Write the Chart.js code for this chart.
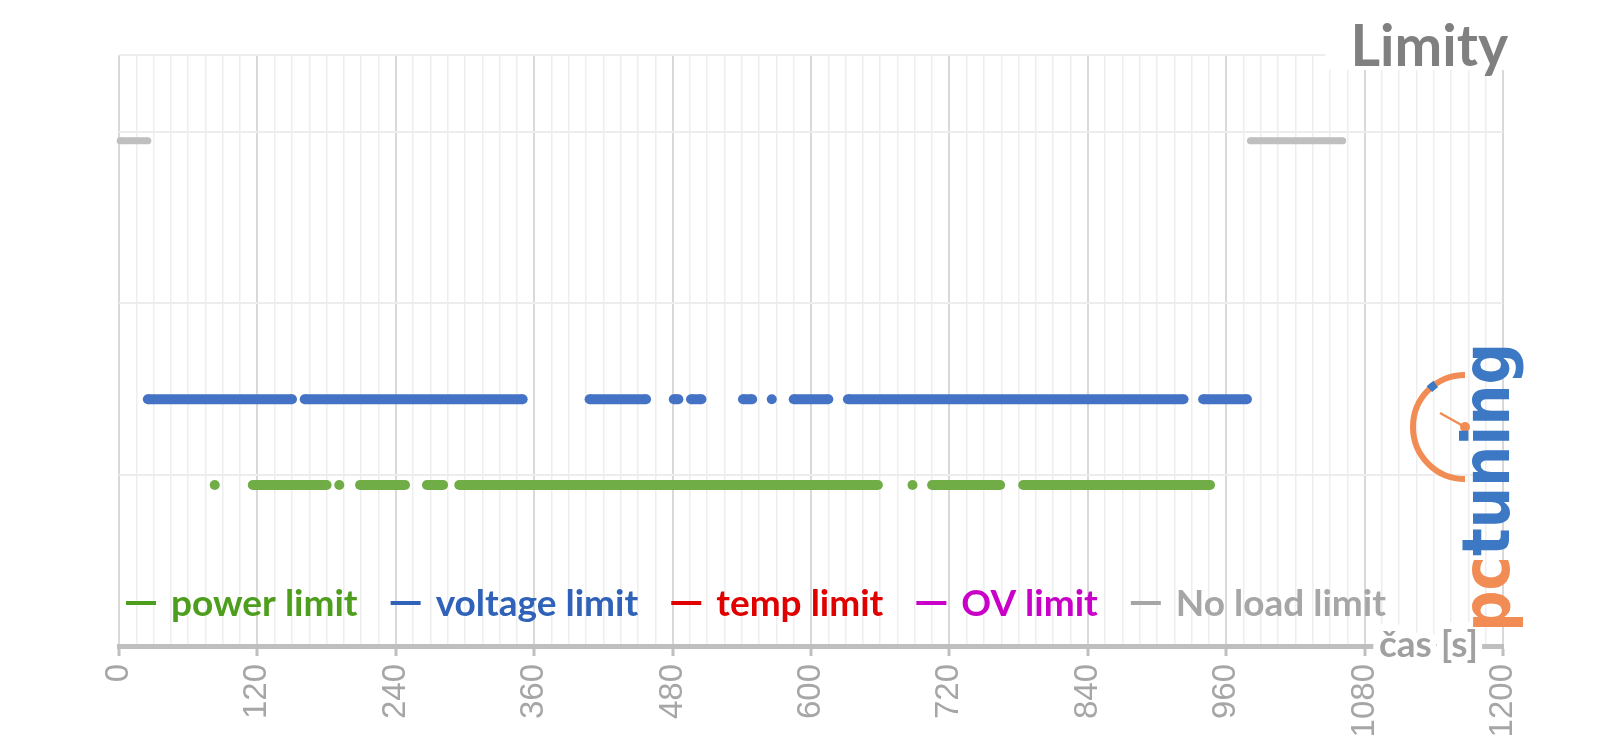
<!DOCTYPE html>
<html>
<head>
<meta charset="utf-8">
<script src="https://cdn.jsdelivr.net/npm/chart.js@4/dist/chart.umd.min.js"></script>
<style>
html,body{margin:0;padding:0;background:#fff;}
#c{display:block;}
</style>
</head>
<body>
<canvas id="c" width="1600" height="745"></canvas>
<script>
// ---- data (time in seconds where each limit was active) ----
const seriesNames = ['power limit', 'voltage limit', 'temp limit', 'OV limit', 'No load limit'];
const powerLimitSegments   = [[83,83],[116,180],[191,191],[209,248],[267,281],[295,658],[688,688],[705,764],[784,946]];
const voltageLimitSegments = [[25,150],[161,350],[408,457],[481,485],[496,505],[541,549],[566,566],[585,615],[632,923],[940,978]];
const tempLimitSegments    = [];
const ovLimitSegments      = [];
const noLoadLimitSegments  = [[1,25],[981,1061]];
const seriesLevels = [0.94, 1.44, 1.94, 2.44, 2.95];
const xTickLabels = [0,120,240,360,480,600,720,840,960,1080,1200];
const xMin = 0, xMax = 1200, yMin = 0, yMax = 3.45;
const titleText = 'Limity';
const xAxisTitle = 'čas [s]';

// ---- styles ----
const lineColors = ['#70AD47', '#4472C4', '#E00000', '#CC00CC', '#BFBFBF'];
const textColors = ['#4E9E1E', '#2F62B8', '#E00000', '#C800C8', '#A6A6A6'];
const lineWidths = [10, 10, 10, 10, 7];

function toData(segs, level) {
  const out = [];
  segs.forEach(([a, b]) => {
    out.push({x: a, y: level});
    if (b !== a) out.push({x: b, y: level});
    out.push({x: b, y: null});
  });
  return out;
}
const allSegments = [powerLimitSegments, voltageLimitSegments, tempLimitSegments, ovLimitSegments, noLoadLimitSegments];
const datasets = allSegments.map((segs, i) => ({
  label: seriesNames[i],
  data: toData(segs, seriesLevels[i]),
  borderColor: lineColors[i],
  backgroundColor: lineColors[i],
  borderWidth: lineWidths[i],
  pointRadius: lineWidths[i] / 2,
  pointHoverRadius: lineWidths[i] / 2,
  pointBorderWidth: 0,
  pointBackgroundColor: lineColors[i],
  spanGaps: false,
  tension: 0,
  clip: false
}));

const FONT = 'Lato, "Open Sans", sans-serif';

const decorPlugin = {
  id: 'decor',
  afterDraw(chart) {
    const ctx = chart.ctx;
    const area = chart.chartArea;
    ctx.save();
    // title
    ctx.font = 'bold 57px ' + FONT;
    ctx.textAlign = 'right';
    ctx.textBaseline = 'alphabetic';
    ctx.fillStyle = '#fff';
    const tw = ctx.measureText(titleText).width;
    ctx.fillRect(area.right - tw - 20, 0, tw + 40, area.top + 15);
    ctx.fillStyle = '#808080';
    ctx.fillText(titleText, area.right + 5, 66);

    // legend inside plot area
    ctx.font = 'bold 37px ' + FONT;
    ctx.textAlign = 'left';
    let x = area.left + 7;
    chart.data.datasets.forEach((ds, i) => {
      ctx.strokeStyle = textColors[i];
      ctx.lineWidth = 4;
      ctx.beginPath();
      ctx.moveTo(x, 603);
      ctx.lineTo(x + 30, 603);
      ctx.stroke();
      x += 45;
      ctx.fillStyle = textColors[i];
      ctx.fillText(ds.label, x, 616);
      x += ctx.measureText(ds.label).width + 33;
    });

    // x axis title with white halo
    ctx.font = 'bold 37px ' + FONT;
    ctx.textAlign = 'left';
    ctx.lineJoin = 'round';
    ctx.lineWidth = 14;
    ctx.strokeStyle = '#fff';
    ctx.strokeText(xAxisTitle, 1379, 657);
    ctx.fillStyle = '#A0A0A0';
    ctx.fillText(xAxisTitle, 1379, 657);

    // pctuning logo
    const orange = '#F28C55', blue = '#3C78C3';
    const cx = 1465, cy = 427, r = 52;
    ctx.lineWidth = 6;
    ctx.strokeStyle = orange;
    ctx.lineCap = 'butt';
    ctx.beginPath();
    ctx.arc(cx, cy, r, Math.PI / 2, Math.PI * 1.5);
    ctx.stroke();
    ctx.strokeStyle = blue;
    ctx.lineWidth = 8;
    ctx.beginPath();
    ctx.arc(cx, cy, r, Math.PI * 1.26, Math.PI * 1.31);
    ctx.stroke();
    ctx.strokeStyle = orange;
    ctx.lineWidth = 2.5;
    ctx.beginPath();
    ctx.moveTo(cx, cy);
    ctx.lineTo(1440, 413);
    ctx.stroke();
    ctx.fillStyle = orange;
    ctx.beginPath();
    ctx.arc(cx, cy, 5, 0, Math.PI * 2);
    ctx.fill();

    ctx.translate(1509, 632);
    ctx.rotate(-Math.PI / 2);
    ctx.font = 'bold 66px "DejaVu Sans", sans-serif';
    ctx.textAlign = 'left';
    ctx.textBaseline = 'alphabetic';
    const wPc = ctx.measureText('pc').width;
    const wAll = ctx.measureText('pctuning').width;
    ctx.scale(289 / wAll, 1);
    ctx.fillStyle = orange;
    ctx.fillText('pc', 0, 0);
    ctx.fillStyle = blue;
    ctx.fillText('tuning', wPc, 0);
    ctx.restore();
  }
};

function build() {
  new Chart(document.getElementById('c'), {
    type: 'line',
    data: { datasets },
    plugins: [decorPlugin],
    options: {
      responsive: false,
      animation: false,
      devicePixelRatio: 1,
      layout: { padding: { left: 119, right: 97, top: 55, bottom: 0 } },
      plugins: { legend: { display: false }, tooltip: { enabled: false }, title: { display: false } },
      scales: {
        x: {
          type: 'linear',
          min: xMin, max: xMax,
          afterBuildTicks(scale) {
            const t = [];
            for (let v = xMin; v <= xMax; v += 15) t.push({ value: v });
            scale.ticks = t;
          },
          afterFit(scale) { scale.height = 99; },
          ticks: {
            autoSkip: false,
            maxRotation: 90, minRotation: 90,
            padding: 8,
            color: '#A6A6A6',
            font: { family: '"Liberation Sans", Arial, sans-serif', size: 33 },
            callback: (v) => xTickLabels.includes(v) ? String(v) : ''
          },
          grid: {
            color: (c) => xTickLabels.includes(c.tick && c.tick.value) ? '#D9D9D9' : '#EEEEEE',
            lineWidth: (c) => xTickLabels.includes(c.tick && c.tick.value) ? 2 : 1.5,
            tickColor: (c) => xTickLabels.includes(c.tick && c.tick.value) ? '#BFBFBF' : 'rgba(0,0,0,0)',
            tickWidth: 3,
            tickLength: 10,
            drawTicks: true
          },
          border: { display: true, color: '#BFBFBF', width: 5 }
        },
        y: {
          type: 'linear',
          min: yMin, max: yMax,
          afterFit(scale) { scale.width = 0; },
          ticks: { display: false, stepSize: 1 },
          grid: {
            color: (c) => (c.tick && c.tick.value === 0) ? 'rgba(0,0,0,0)' : '#EDEDED',
            lineWidth: 2,
            drawTicks: false
          },
          border: { display: false }
        }
      }
    }
  });
}

if (document.fonts && document.fonts.load) {
  Promise.all([
    document.fonts.load('bold 37px Lato'),
    document.fonts.load('33px "Liberation Sans"'),
    document.fonts.load('bold 66px "DejaVu Sans"')
  ]).then(build, build);
} else {
  build();
}
</script>
</body>
</html>
